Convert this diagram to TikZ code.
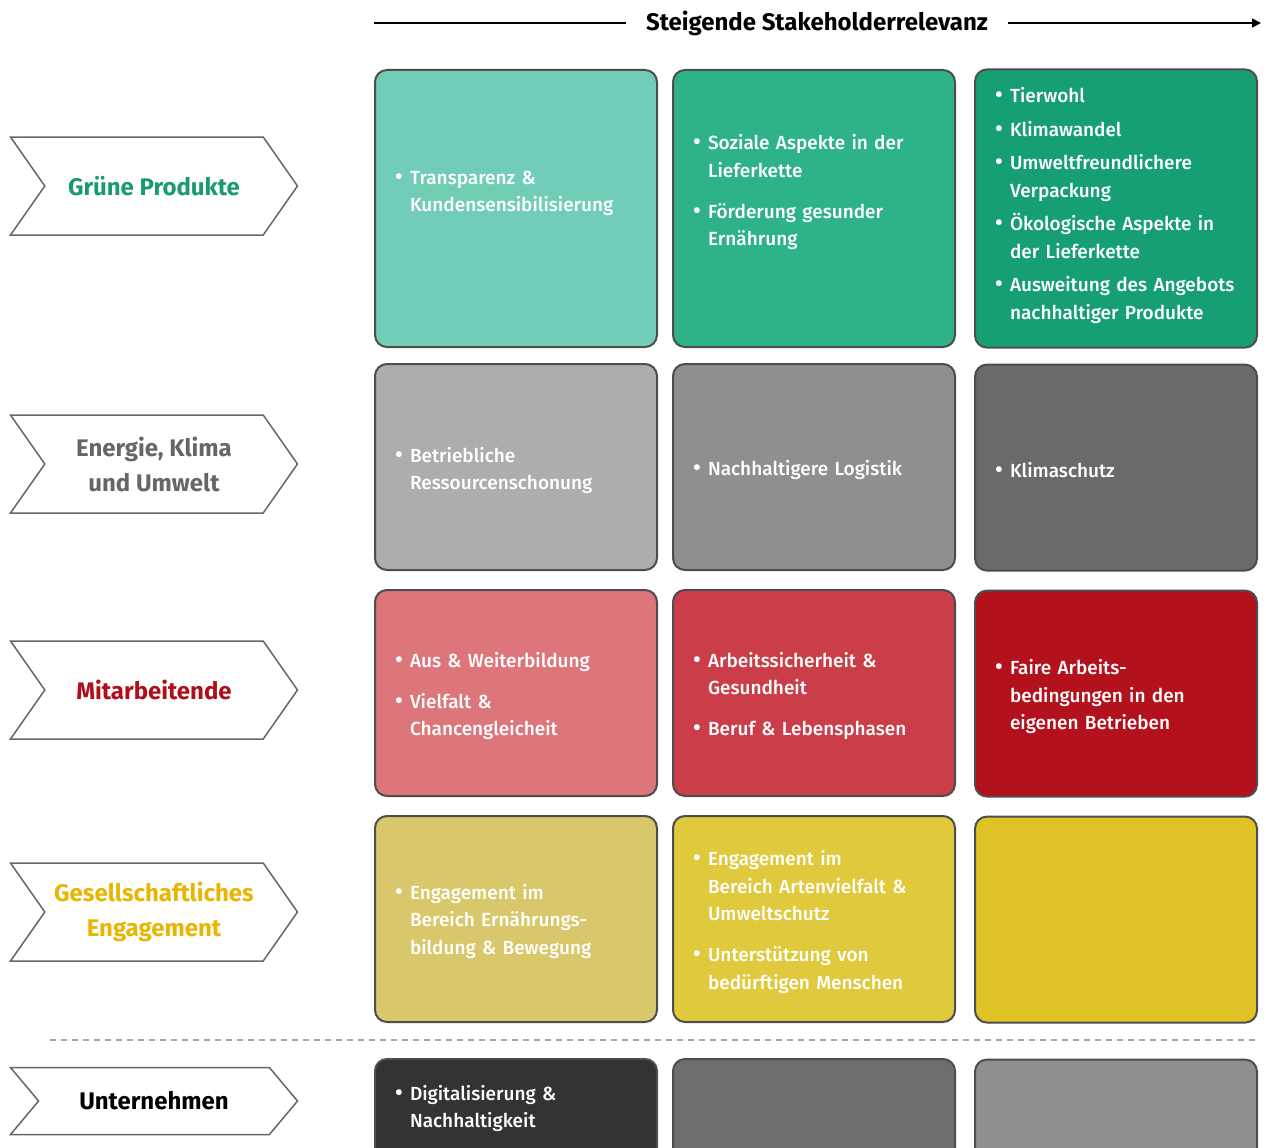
\documentclass[tikz,border=0pt]{standalone}
\usepackage{fontspec}
\setmainfont{Fira Sans}
\newfontfamily\mittel{Fira Sans Medium}
\usetikzlibrary{positioning,shapes.symbols,arrows.meta}
\definecolor{gruenA}{HTML}{72CDB6}
\definecolor{gruenB}{HTML}{2EB28A}
\definecolor{gruenC}{HTML}{169F74}
\definecolor{grauA}{HTML}{ADADAD}
\definecolor{grauB}{HTML}{8F8F8F}
\definecolor{grauC}{HTML}{6A6A6A}
\definecolor{rotA}{HTML}{DC767B}
\definecolor{rotB}{HTML}{CB3E49}
\definecolor{rotC}{HTML}{B3121C}
\definecolor{gelbA}{HTML}{D9C86B}
\definecolor{gelbB}{HTML}{E0C93C}
\definecolor{gelbC}{HTML}{DFC326}
\definecolor{dunkelA}{HTML}{333333}
\definecolor{dunkelB}{HTML}{6E6E6E}
\definecolor{dunkelC}{HTML}{8F8F8F}
\definecolor{rahmen}{HTML}{4D4D4D}
\definecolor{txtgruen}{HTML}{1A9B6B}
\definecolor{txtgrau}{HTML}{666666}
\definecolor{txtrot}{HTML}{B00E1A}
\definecolor{txtgelb}{HTML}{E8B500}
\newcommand{\pkt}[1]{\par\hangindent=20pt\hangafter=1\noindent\makebox[20pt][l]{\hspace{5pt}{\fontsize{23}{23}\selectfont\textbullet}}#1\par}

\begin{document}
\begin{tikzpicture}[x=1pt,y=-1pt,
  feld/.style={draw=rahmen,line width=2pt,rounded corners=12pt,minimum width=282pt,
    minimum height=206pt,text width=252pt,align=left,text=white,inner sep=0pt,
    font=\mittel\fontsize{19}{27.5}\selectfont\setlength{\parskip}{13.5pt}},
  pfeil/.style={signal,signal from=west,signal to=east,signal pointer angle=110,
    draw=txtgrau,line width=1.5pt,fill=white,minimum width=287pt,minimum height=98pt,
    inner sep=0pt,align=center,font=\bfseries\fontsize{24}{35}\selectfont}]
  \useasboundingbox (0,0) rectangle (1266,1148);

  % Kopfzeile
  \node[inner xsep=20pt,font=\bfseries\fontsize{24}{28}\selectfont](titel) at (817,23){Steigende Stakeholderrelevanz};
  \coordinate (li) at (374,23);
  \coordinate (re) at (1261,23);
  \draw[line width=1.5pt] (li) -- (titel.west);
  \draw[line width=1.5pt,-{Triangle[length=9pt,width=9pt]}] (titel.east) -- (re);

  % Themenfelder
  \node[pfeil,text=txtgruen](p1) at (154,186){Grüne Produkte};
  \node[pfeil,text=txtgrau](p2) at (154,464){Energie, Klima\\und Umwelt};
  \node[pfeil,text=txtrot](p3) at (154,690){Mitarbeitende};
  \node[pfeil,text=txtgelb](p4) at (154,912){Gesellschaftliches\\Engagement};
  \node[pfeil,text=black,minimum height=67pt,signal pointer angle=100](p5) at (154,1101){Unternehmen};

  % Zeile 1
  \node[feld,fill=gruenA,minimum height=277pt,anchor=north west](a1) at (374,69){%
    \pkt{Transparenz \&\newline Kundensensibilisierung}\vspace{58pt}};
  \node[feld,fill=gruenB,minimum height=277pt,right=14pt of a1](b1){%
    \pkt{Soziale Aspekte in der\newline Lieferkette}
    \pkt{Förderung gesunder\newline Ernährung}\vspace{58pt}};
  \node[feld,fill=gruenC,minimum height=277pt,right=18pt of b1](c1){\setlength{\parskip}{6pt}%
    \pkt{Tierwohl}
    \pkt{Klimawandel}
    \pkt{Umweltfreundlichere\newline Verpackung}
    \pkt{Ökologische Aspekte in\newline der Lieferkette}
    \pkt{Ausweitung des Angebots\newline nachhaltiger Produkte}\vspace{24pt}};

  % Zeile 2
  \node[feld,fill=grauA,below=15pt of a1](a2){\pkt{Betriebliche\newline Ressourcenschonung}\vspace{19pt}};
  \node[feld,fill=grauB,below=15pt of b1](b2){\pkt{Nachhaltigere Logistik}\vspace{19pt}};
  \node[feld,fill=grauC,below=15pt of c1](c2){\pkt{Klimaschutz}\vspace{20pt}};

  % Zeile 3
  \node[feld,fill=rotA,below=18pt of a2](a3){%
    \pkt{Aus \& Weiterbildung}
    \pkt{Vielfalt \&\newline Chancengleicheit}\vspace{20pt}};
  \node[feld,fill=rotB,below=18pt of b2](b3){%
    \pkt{Arbeitssicherheit \&\newline Gesundheit}
    \pkt{Beruf \& Lebensphasen}\vspace{20pt}};
  \node[feld,fill=rotC,below=18pt of c2](c3){%
    \pkt{Faire Arbeits-\newline bedingungen in den\newline eigenen Betrieben}\vspace{20pt}};

  % Zeile 4
  \node[feld,fill=gelbA,below=18pt of a3](a4){%
    \pkt{Engagement im\newline Bereich Ernährungs-\newline bildung \& Bewegung}\vspace{21pt}};
  \node[feld,fill=gelbB,below=18pt of b3](b4){%
    \pkt{Engagement im\newline Bereich Artenvielfalt \&\newline Umweltschutz}
    \pkt{Unterstützung von\newline bedürftigen Menschen}\vspace{20pt}};
  \node[feld,fill=gelbC,below=18pt of c3](c4){};

  % Trennlinie
  \coordinate (t1) at (50,1040);
  \coordinate (t2) at (1255,1040);
  \draw[line width=1.5pt,black!35,dash pattern=on 6pt off 5pt] (t1) -- (t2);

  % Zeile 5
  \node[feld,fill=dunkelA,minimum height=120pt,below=35pt of a4](a5){%
    \pkt{Digitalisierung \&\newline Nachhaltigkeit}\vspace{47pt}};
  \node[feld,fill=dunkelB,minimum height=120pt,below=35pt of b4](b5){};
  \node[feld,fill=dunkelC,minimum height=120pt,below=35pt of c4](c5){};
\end{tikzpicture}
\end{document}
